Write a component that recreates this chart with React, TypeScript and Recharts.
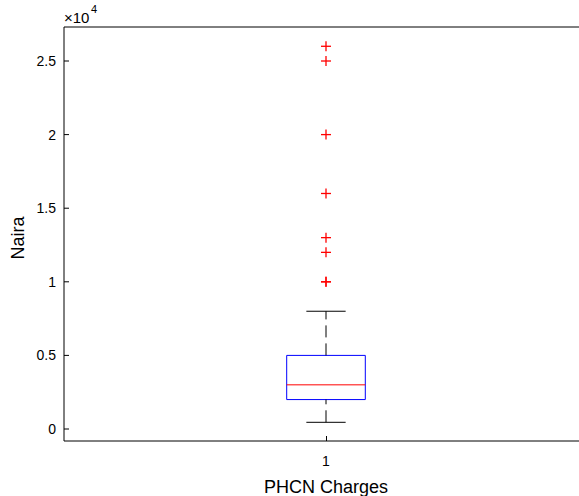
// Boxplot of PHCN charges (Naira), MATLAB-style axes with inward ticks.
import { ComposedChart, XAxis, YAxis, Scatter, ReferenceArea, ReferenceLine } from 'recharts';

const groups = [1];
const groupLabels = ['1'];

// five-number summary for the single group
const lowerAdjacent = [455];
const q1 = [2000];
const median = [3000];
const q3 = [5000];
const upperAdjacent = [8000];

// points beyond the whiskers (10000 appears more than once)
const outliers = [10000, 10000, 12000, 13000, 16000, 20000, 25000, 26000];

const yTicks = [0, 5000, 10000, 15000, 20000, 25000];
const yTickLabels = ['0', '0.5', '1', '1.5', '2', '2.5'];

const FONT = '"Liberation Sans", Arial, Helvetica, sans-serif';
const W = 600;
const H = 496;
const PLOT_LEFT = 64;
const PLOT_TOP = 27;
const PLOT_BOTTOM = 441;
const TICK = 5;
const BOX_HALF = 0.075;
const CAP_HALF = 0.0375;

const outlierPoints = outliers.map((v) => ({ x: groups[0], y: v }));

// snap a 1px line onto a whole pixel
const crisp = (v: number) => Math.floor(v) + 0.5;

function YTick(props: any) {
  const { y, payload } = props;
  const i = yTicks.indexOf(payload.value);
  return (
    <g>
      <line x1={PLOT_LEFT} x2={PLOT_LEFT + TICK} y1={y} y2={y} stroke="#000" />
      <text x={56} y={y} textAnchor="end" dominantBaseline="central" fontSize={14} fontFamily={FONT} fill="#000">
        {i >= 0 ? yTickLabels[i] : ''}
      </text>
    </g>
  );
}

function XTick(props: any) {
  const { x, payload } = props;
  const i = groups.indexOf(payload.value);
  return (
    <g>
      <line x1={crisp(x)} x2={crisp(x)} y1={PLOT_BOTTOM} y2={PLOT_BOTTOM - TICK} stroke="#000" strokeWidth={1} />
      <text x={x} y={461} textAnchor="middle" dominantBaseline="central" fontSize={14} fontFamily={FONT} fill="#000">
        {i >= 0 ? groupLabels[i] : ''}
      </text>
    </g>
  );
}

function TopTick(props: any) {
  const { x } = props;
  return <line x1={crisp(x)} x2={crisp(x)} y1={PLOT_TOP} y2={PLOT_TOP + TICK} stroke="#000" strokeWidth={1} />;
}

function Plus(props: any) {
  const { cx, cy } = props;
  return (
    <g stroke="#ff0000" strokeWidth={1.3}>
      <line x1={cx - 5} x2={cx + 5} y1={cy} y2={cy} />
      <line x1={cx} x2={cx} y1={cy - 5} y2={cy + 5} />
    </g>
  );
}

export default function App() {
  const g = groups[0];
  return (
    <div style={{ position: 'absolute', left: 0, top: 0, width: 579, height: 496, overflow: 'hidden', background: '#fff' }}>
      <ComposedChart width={W} height={H} margin={{ top: 0, right: W - 588, bottom: 0, left: 0 }}>
        <XAxis
          dataKey="x"
          type="number"
          domain={[0.5, 1.5]}
          ticks={groups}
          interval={0}
          height={H - PLOT_BOTTOM}
          axisLine={{ stroke: '#000' }}
          tickLine={false}
          tick={(p: any) => <XTick {...p} />}
          allowDataOverflow
        />
        <XAxis
          xAxisId="top"
          orientation="top"
          type="number"
          domain={[0.5, 1.5]}
          ticks={groups}
          interval={0}
          height={PLOT_TOP}
          axisLine={{ stroke: '#000' }}
          tickLine={false}
          tick={(p: any) => <TopTick {...p} />}
        />
        <YAxis
          type="number"
          domain={[-815, 27310]}
          ticks={yTicks}
          width={PLOT_LEFT}
          axisLine={{ stroke: '#000' }}
          tickLine={false}
          tick={(p: any) => <YTick {...p} />}
          allowDataOverflow
          interval={0}
        />

        {/* whiskers */}
        <ReferenceLine segment={[{ x: g, y: q3[0] }, { x: g, y: upperAdjacent[0] }]} stroke="#000" strokeDasharray="12 6" />
        <ReferenceLine segment={[{ x: g, y: lowerAdjacent[0] }, { x: g, y: q1[0] }]} stroke="#000" strokeDasharray="12 6" />
        <ReferenceLine segment={[{ x: g - CAP_HALF, y: upperAdjacent[0] }, { x: g + CAP_HALF, y: upperAdjacent[0] }]} stroke="#000" />
        <ReferenceLine segment={[{ x: g - CAP_HALF, y: lowerAdjacent[0] }, { x: g + CAP_HALF, y: lowerAdjacent[0] }]} stroke="#000" />

        {/* box and median */}
        <ReferenceArea x1={g - BOX_HALF} x2={g + BOX_HALF} y1={q1[0]} y2={q3[0]} stroke="#0000ff" fill="none" fillOpacity={0} strokeOpacity={1} />
        <ReferenceLine segment={[{ x: g - BOX_HALF, y: median[0] }, { x: g + BOX_HALF, y: median[0] }]} stroke="#ff0000" />

        <Scatter data={outlierPoints} dataKey="y" shape={Plus} isAnimationActive={false} />
      </ComposedChart>

      <div style={{ position: 'absolute', left: 64, top: 10, fontFamily: FONT, fontSize: 15, lineHeight: '15px', color: '#000', whiteSpace: 'nowrap' }}>
        ×10
        <span style={{ position: 'absolute', left: 27, top: -6, fontSize: 11, lineHeight: '11px' }}>4</span>
      </div>
      <div style={{ position: 'absolute', left: 18, top: 238, width: 0, height: 0 }}>
        <div style={{ position: 'absolute', transform: 'translate(-50%, -50%) rotate(-90deg)', fontFamily: FONT, fontSize: 18, color: '#000', whiteSpace: 'nowrap' }}>
          Naira
        </div>
      </div>
      <div style={{ position: 'absolute', left: 326, top: 487, width: 0, height: 0 }}>
        <div style={{ position: 'absolute', transform: 'translate(-50%, -50%)', fontFamily: FONT, fontSize: 18, color: '#000', whiteSpace: 'nowrap' }}>
          PHCN Charges
        </div>
      </div>
    </div>
  );
}
